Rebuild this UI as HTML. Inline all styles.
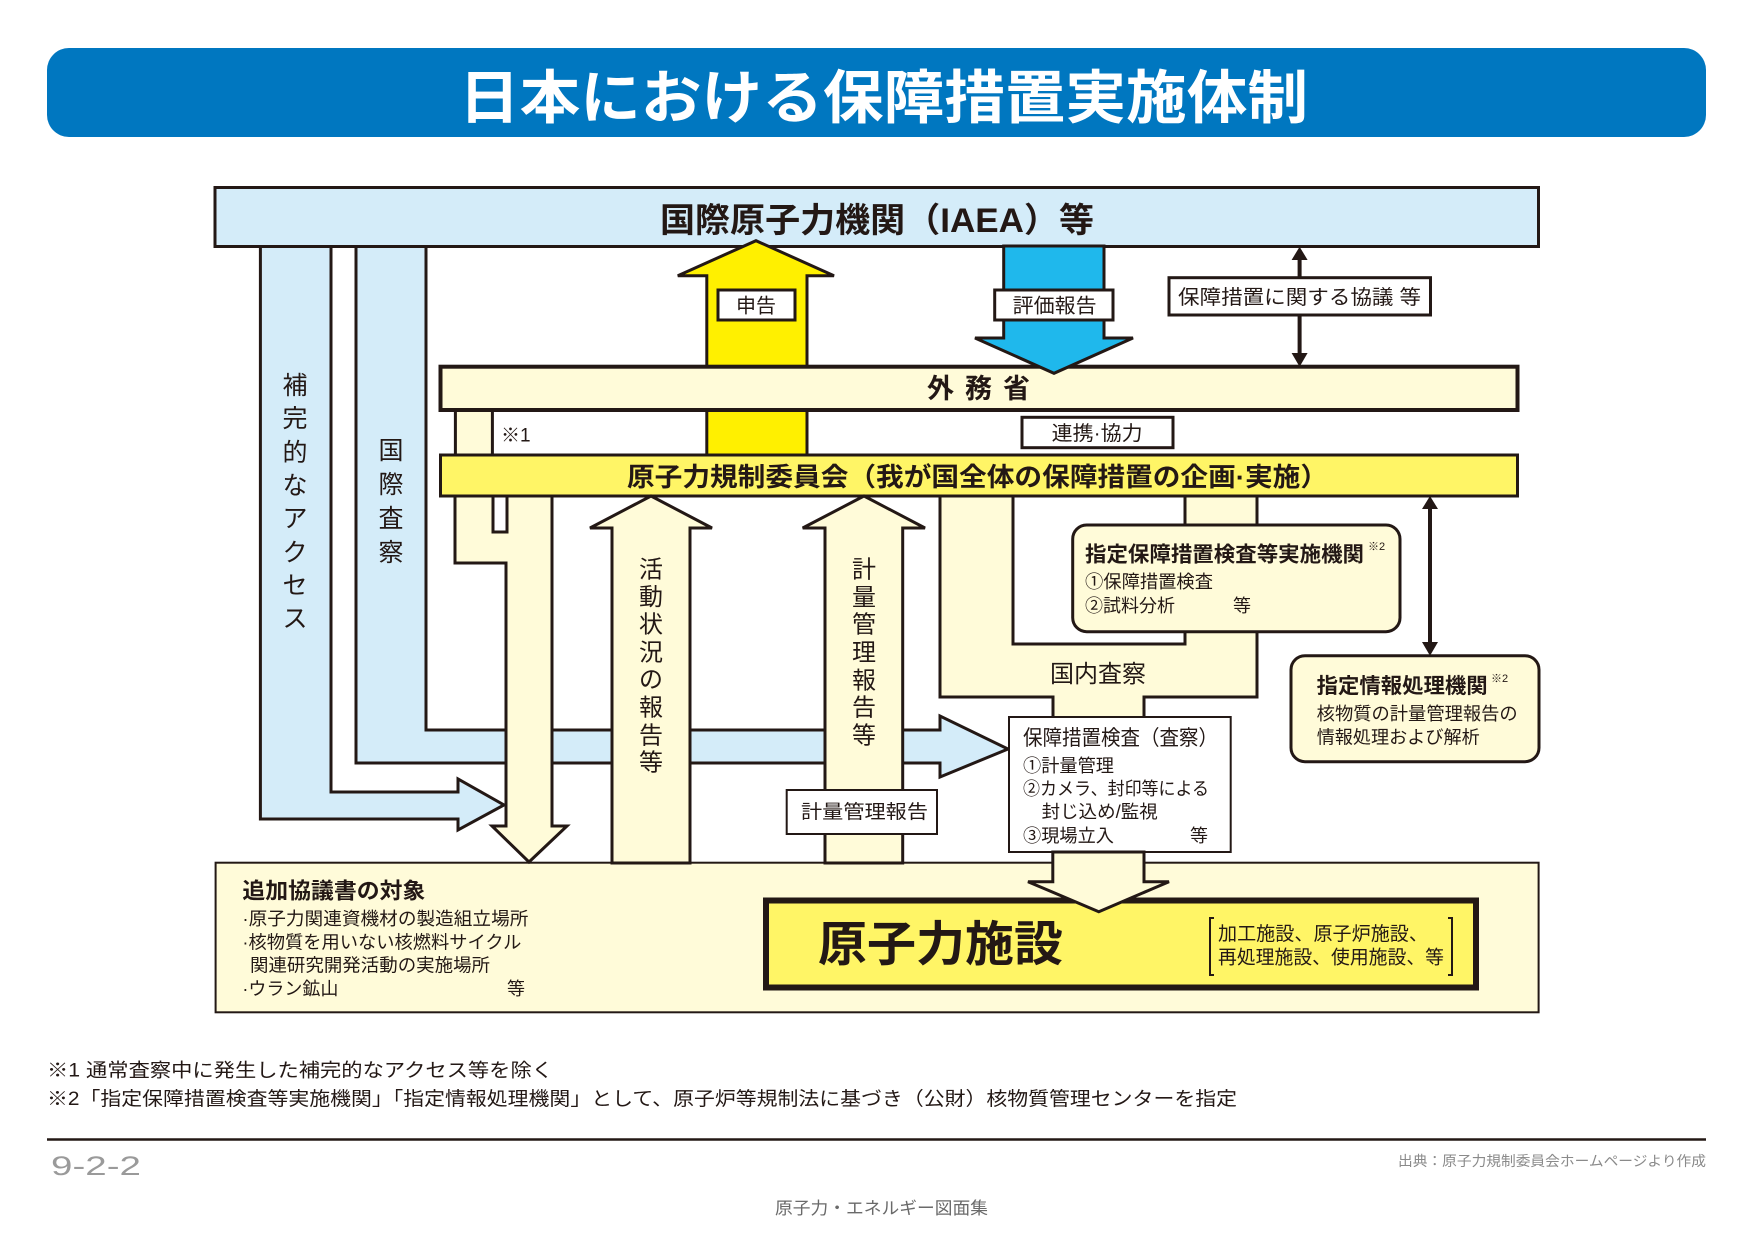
<!DOCTYPE html>
<html><head><meta charset="utf-8"><style>
html,body{margin:0;padding:0;background:#fff}
svg{display:block}
text{font-family:"Liberation Sans","Noto Sans CJK JP",sans-serif;fill:#231815}
.b{font-weight:bold}
</style></head><body>
<svg width="1754" height="1240" viewBox="0 0 1754 1240" xmlns="http://www.w3.org/2000/svg">
<g stroke="#231815" stroke-width="3" stroke-linejoin="miter">
<rect x="47" y="48" width="1659" height="89" rx="22" fill="#0077c0" stroke="none"/>
<polygon points="260.4,240 260.4,819 458,819 458,830 504,805 458,779 458,792 331,792 331,240" fill="#d4ecf9"/>
<polygon points="356,240 356,763 940,763 940,777 1008,749 940,716 940,730 426,730 426,240" fill="#d4ecf9"/>
<rect x="215" y="187.5" width="1323.5" height="59" fill="#d4ecf9"/>
<polygon points="706.8,456 706.8,275.7 677.8,275.7 756,240.7 834,275.7 807,275.7 807,456" fill="#fff000"/>
<rect x="455.4" y="408" width="37" height="48" fill="#fffbd9"/>
<rect x="440.5" y="366.7" width="1077" height="43.3" fill="#fffbd9" stroke-width="4"/>
<polygon points="1003.7,246 1003.7,338 975,338 1054,373.3 1133,338 1104,338 1104,246" fill="#1fb8ec"/>
<rect x="440.5" y="455" width="1077" height="41" fill="#fff566"/>
<rect x="215.6" y="862.7" width="1323" height="149.6" fill="#fffbd9" stroke-width="2"/>
<polygon points="455,496 455,563 506,563 506,826 492,826 529,862 567,826 552,826 552,496 507,496 507,532 493,532 493,496" fill="#fffbd9"/>
<polygon points="612,863 612,528 590,528 651,496 712,528 690,528 690,863" fill="#fffbd9"/>
<polygon points="825,863 825,528 802.7,528 864,496 925,528 902.7,528 902.7,863" fill="#fffbd9"/>
<polygon points="940,496 940,697 1053,697 1053,718 1144,718 1144,697 1257,697 1257,496 1185,496 1185,644 1013,644 1013,496" fill="#fffbd9"/>
<rect x="1072.7" y="525" width="327.3" height="106.7" rx="14" fill="#fffbd9"/>
<rect x="1291" y="655.7" width="248" height="106" rx="14" fill="#fffbd9"/>
<rect x="1009" y="717" width="221.7" height="135" fill="#fff" stroke-width="2"/>
<rect x="766" y="900.5" width="710" height="87" fill="#fff566" stroke-width="6"/>
<polygon points="1052.8,852 1052.8,881.7 1028,881.7 1098.8,911.7 1169,881.7 1144,881.7 1144,852" fill="#fffbd9"/>
<line x1="1299.6" y1="258" x2="1299.6" y2="355" stroke-width="4"/>
<line x1="1430" y1="508" x2="1430" y2="643" stroke-width="4"/>
<rect x="718" y="290" width="77" height="30" fill="#fff"/>
<rect x="994.7" y="290" width="118.3" height="30" fill="#fff"/>
<rect x="1169" y="277.7" width="261.5" height="37.3" fill="#fff"/>
<rect x="1022" y="417.3" width="151" height="30.4" fill="#fff"/>
<rect x="786.7" y="790" width="150.3" height="44" fill="#fff" stroke-width="2"/>
<path d="M1214,918 h-4 v57 h4 M1448,918 h4 v57 h-4" fill="none" stroke-width="2"/>
<line x1="47" y1="1139.5" x2="1706" y2="1139.5" stroke-width="2.5"/>
</g>
<g fill="#231815">
<polygon points="1291.6,260 1307.6,260 1299.6,246.7"/>
<polygon points="1291.6,353 1307.6,353 1299.6,366.7"/>
<polygon points="1422,509 1438,509 1430,496"/>
<polygon points="1422,642 1438,642 1430,655.7"/>
</g>
<text x="459" y="118" font-size="58" class="b" style="fill:#fff" textLength="849" lengthAdjust="spacingAndGlyphs">日本における保障措置実施体制</text>
<text x="660" y="232" font-size="34" class="b" textLength="434" lengthAdjust="spacingAndGlyphs">国際原子力機関（IAEA）等</text>
<text x="736" y="312.7" font-size="20" textLength="40" lengthAdjust="spacingAndGlyphs">申告</text>
<text x="1012.6" y="312.7" font-size="20" textLength="84" lengthAdjust="spacingAndGlyphs">評価報告</text>
<text x="1178" y="304" font-size="20" textLength="243" lengthAdjust="spacingAndGlyphs">保障措置に関する協議 等</text>
<text x="927" y="398" font-size="27" class="b" textLength="103" lengthAdjust="spacing">外務省</text>
<text x="501" y="441.7" font-size="19">※1</text>
<text x="1051.7" y="440" font-size="20" textLength="91" lengthAdjust="spacingAndGlyphs">連携·協力</text>
<text x="627" y="486" font-size="26" class="b" textLength="701" lengthAdjust="spacingAndGlyphs">原子力規制委員会（我が国全体の保障措置の企画·実施）</text>
<text x="1085" y="561.7" font-size="21" class="b" textLength="279" lengthAdjust="spacingAndGlyphs">指定保障措置検査等実施機関</text>
<text x="1368" y="550" font-size="11">※2</text>
<text x="1085" y="588" font-size="18" textLength="128" lengthAdjust="spacingAndGlyphs">①保障措置検査</text>
<text x="1085" y="612" font-size="18" textLength="90" lengthAdjust="spacingAndGlyphs">②試料分析</text>
<text x="1233" y="612" font-size="18">等</text>
<text x="1050" y="682" font-size="24" textLength="96" lengthAdjust="spacingAndGlyphs">国内査察</text>
<text x="1316.7" y="693" font-size="21" class="b" textLength="171" lengthAdjust="spacingAndGlyphs">指定情報処理機関</text>
<text x="1491" y="682" font-size="11">※2</text>
<text x="1316.7" y="720" font-size="18" textLength="201" lengthAdjust="spacingAndGlyphs">核物質の計量管理報告の</text>
<text x="1316.7" y="743.5" font-size="18" textLength="163" lengthAdjust="spacingAndGlyphs">情報処理および解析</text>
<text x="1023" y="745" font-size="21" textLength="195" lengthAdjust="spacingAndGlyphs">保障措置検査（査察）</text>
<text x="1023" y="772" font-size="18" textLength="91" lengthAdjust="spacingAndGlyphs">①計量管理</text>
<text x="1023" y="795" font-size="18" textLength="186" lengthAdjust="spacingAndGlyphs">②カメラ、封印等による</text>
<text x="1041.7" y="818" font-size="18" textLength="116" lengthAdjust="spacingAndGlyphs">封じ込め/監視</text>
<text x="1023" y="842" font-size="18" textLength="91" lengthAdjust="spacingAndGlyphs">③現場立入</text>
<text x="1190" y="842" font-size="18">等</text>
<text x="801" y="818" font-size="19" textLength="127" lengthAdjust="spacingAndGlyphs">計量管理報告</text>
<text x="242.4" y="898.3" font-size="22" class="b" textLength="183" lengthAdjust="spacingAndGlyphs">追加協議書の対象</text>
<text x="242.4" y="925" font-size="18" textLength="286" lengthAdjust="spacingAndGlyphs">·原子力関連資機材の製造組立場所</text>
<text x="242.4" y="948.3" font-size="18" textLength="279" lengthAdjust="spacingAndGlyphs">·核物質を用いない核燃料サイクル</text>
<text x="250" y="971.7" font-size="18" textLength="240" lengthAdjust="spacingAndGlyphs">関連研究開発活動の実施場所</text>
<text x="242.4" y="995" font-size="18" textLength="96" lengthAdjust="spacingAndGlyphs">·ウラン鉱山</text>
<text x="507" y="995" font-size="18">等</text>
<text x="818" y="960.7" font-size="48" class="b" textLength="245" lengthAdjust="spacingAndGlyphs">原子力施設</text>
<text x="1218" y="940" font-size="19" textLength="210" lengthAdjust="spacingAndGlyphs">加工施設、原子炉施設、</text>
<text x="1218" y="963.3" font-size="19" textLength="226" lengthAdjust="spacingAndGlyphs">再処理施設、使用施設、等</text>
<g font-size="25" text-anchor="middle" dominant-baseline="central">
<text x="295" y="386">補</text><text x="295" y="419">完</text><text x="295" y="453">的</text><text x="295" y="486">な</text><text x="295" y="519">ア</text><text x="295" y="553">ク</text><text x="295" y="586">セ</text><text x="295" y="619">ス</text>
<text x="391" y="451">国</text><text x="391" y="485">際</text><text x="391" y="519">査</text><text x="391" y="553">察</text>
</g>
<g font-size="24" text-anchor="middle" dominant-baseline="central">
<text x="651" y="570">活</text><text x="651" y="597.6">動</text><text x="651" y="625">状</text><text x="651" y="653">況</text><text x="651" y="680">の</text><text x="651" y="708">報</text><text x="651" y="736">告</text><text x="651" y="763">等</text>
<text x="864" y="570">計</text><text x="864" y="598">量</text><text x="864" y="625">管</text><text x="864" y="653">理</text><text x="864" y="681">報</text><text x="864" y="708">告</text><text x="864" y="736">等</text>
</g>
<text x="47" y="1076.7" font-size="19" textLength="506" lengthAdjust="spacingAndGlyphs">※1 通常査察中に発生した補完的なアクセス等を除く</text>
<text x="47" y="1105" font-size="19" textLength="1190" lengthAdjust="spacingAndGlyphs">※2「指定保障措置検査等実施機関」「指定情報処理機関」として、原子炉等規制法に基づき（公財）核物質管理センターを指定</text>
<text x="51" y="1175" font-size="27" style="fill:#9a9a9a" textLength="90" lengthAdjust="spacingAndGlyphs">9-2-2</text>
<text x="1398" y="1166" font-size="14" style="fill:#8a8a8a" textLength="308" lengthAdjust="spacingAndGlyphs">出典：原子力規制委員会ホームページより作成</text>
<text x="775" y="1214" font-size="17" style="fill:#6a6a6a" textLength="213" lengthAdjust="spacingAndGlyphs">原子力・エネルギー図面集</text>
</svg>
</body></html>
